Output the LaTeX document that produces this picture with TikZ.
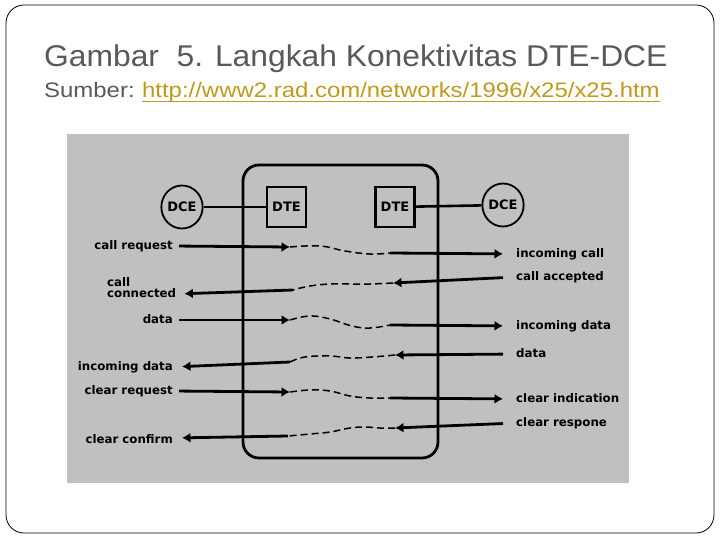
\documentclass[tikz,border=0pt]{standalone}
\usepackage{fontspec}
\usetikzlibrary{arrows.meta,shapes.geometric}
\newfontfamily\titlefont[FakeStretch=1.06]{Liberation Sans}
\newfontfamily\srcfont[FakeStretch=1.14]{Liberation Sans}
\newfontfamily\lblfont{DejaVu Sans}
\definecolor{panelgray}{HTML}{C0C0C0}
\definecolor{titlegray}{HTML}{595959}
\definecolor{urlgold}{HTML}{BF9A1E}
\begin{document}
\begin{tikzpicture}[x=1pt,y=-1pt,
		msg/.style={inner sep=0pt,font=\lblfont\bfseries\fontsize{11.8}{11.5}\selectfont},
		sig/.style={line width=2.8pt,-{Latex[length=8.5pt,width=10pt]}},
		wire/.style={line width=2.6pt},
		wave/.style={line width=1.5pt,dash pattern=on 7pt off 4pt},
		dcenode/.style={ellipse,draw,line width=1.8pt,minimum width=40pt,minimum height=43pt,inner sep=0pt,font=\lblfont\bfseries\fontsize{13}{13}\selectfont},
		dtenode/.style={rectangle,draw,line width=2.4pt,minimum width=39pt,minimum height=40pt,inner sep=0pt,font=\lblfont\bfseries\fontsize{13}{13}\selectfont}
	]
		\useasboundingbox (0,0) rectangle (720,540);
		\fill[white] (0,0) rectangle (720,540);
		\draw[line width=0.8pt,rounded corners=18pt] (6,5) rectangle (714,533);
		
		\node[anchor=base west,inner sep=0pt,text=titlegray,font=\titlefont\fontsize{30}{30}\selectfont] (title) at (44,66.5) {Gambar\ \ 5. Langkah Konektivitas DTE-DCE};
		\node[anchor=base west,inner sep=0pt,text=titlegray,font=\srcfont\fontsize{21}{21}\selectfont] (srclabel) at (44,98) {Sumber:};
		\node[anchor=base west,inner sep=0pt,text=urlgold,font=\srcfont\fontsize{21}{21}\selectfont] (srcurl) at ([xshift=7pt]srclabel.base east) {http://www2.rad.com/networks/1996/x25/x25.htm};
		\draw[urlgold,line width=1.8pt] ([yshift=-3.5pt]srcurl.base west) -- ([yshift=-3.5pt]srcurl.base east);
		
		\fill[panelgray] (67,134) rectangle (629,483);
		\node[draw,rounded corners=16pt,line width=2.8pt,minimum width=195pt,minimum height=293pt] (dtezone) at (340.5,311.5) {};
		
		\node[dcenode] (dceA) at (182,207) {DCE};
		\node[dtenode] (dteA) at (286.5,207) {DTE};
		\node[dtenode] (dteB) at (395,207) {DTE};
		\node[dcenode] (dceB) at (503,205) {DCE};
		\draw[wire] (dceA) -- (dteA);
		\draw[wire] (dteB) -- (dceB);
		
		\node[msg,anchor=base east] (callreq) at (173,249) {call request};
		\node[msg,anchor=base west] (incall) at (516,257) {incoming call};
		\coordinate (reqtip) at (290,247);
		\coordinate (reqout) at (390,253);
		\draw[sig,shorten <=6pt] ([yshift=3pt]callreq.base east) -- (reqtip);
		\draw[wave] 
		plot[smooth, tension=0.7] coordinates {
			(reqtip)
			(320,246)
			(345,251)
			(370,254)
			(reqout)
		};
		\draw[sig,shorten >=13pt] (reqout) -- ([yshift=3pt]incall.base west);
		
		\node[msg,anchor=south west,align=left] (callcon) at (107,298) {call\\connected};
		\node[msg,anchor=base west] (callacc) at (516,280) {call accepted};
		\coordinate (conin) at (293,290);
		\coordinate (acctip) at (393,283);
		\draw[sig,shorten <=13pt] ([yshift=3pt]callacc.base west) -- (acctip);
		\draw[wave] 
		plot[smooth, tension=0.7] coordinates {
			(acctip)
			(370,284)
			(350,284)
			(330,284)
			(310,286)
			(conin)
		};
		\draw[sig,shorten >=8pt] (conin) -- ([yshift=4pt]callcon.south east);
		
		\node[msg,anchor=base east] (datasend) at (173,323) {data};
		\node[msg,anchor=base west] (datain) at (516,329) {incoming data};
		\coordinate (datatip) at (290,320);
		\coordinate (dataout) at (390,325);
		\draw[sig,shorten <=6pt] ([yshift=3pt]datasend.base east) -- (datatip);
		\draw[wave] 
		plot[smooth, tension=0.7] coordinates {
			(datatip)
			(310,316)
			(330,319)
			(352,326)
			(370,328)
			(dataout)
		};
		\draw[sig,shorten >=13pt] (dataout) -- ([yshift=3pt]datain.base west);
		
		\node[msg,anchor=base east] (datarecv) at (173,370) {incoming data};
		\node[msg,anchor=base west] (dataret) at (516,357) {data};
		\coordinate (retin) at (290,362);
		\coordinate (rettip) at (395,355);
		\draw[sig,shorten <=13pt] ([yshift=3pt]dataret.base west) -- (rettip);
		\draw[wave] 
		plot[smooth, tension=0.7] coordinates {
			(rettip)
			(372,357)
			(350,358)
			(330,356)
			(305,357)
			(retin)
		};
		\draw[sig,shorten >=9pt] (retin) -- ([yshift=3pt]datarecv.base east);
		
		\node[msg,anchor=base east] (clrreq) at (173,394) {clear request};
		\node[msg,anchor=base west] (clrind) at (516,402) {clear indication};
		\coordinate (clrtip) at (290,392);
		\coordinate (clrout) at (390,398);
		\draw[sig,shorten <=6pt] ([yshift=3pt]clrreq.base east) -- (clrtip);
		\draw[wave] 
		plot[smooth, tension=0.7] coordinates {
			(clrtip)
			(310,390)
			(330,391)
			(350,396)
			(370,398)
			(clrout)
		};
		\draw[sig,shorten >=13pt] (clrout) -- ([yshift=3pt]clrind.base west);
		
		\node[msg,anchor=base east] (clrcfm) at (173,443) {clear confirm};
		\node[msg,anchor=base west] (clrresp) at (516,426) {clear respone};
		\coordinate (cfmin) at (288,436);
		\coordinate (cfmtip) at (395,428);
		\draw[sig,shorten <=13pt] ([yshift=3pt]clrresp.base west) -- (cfmtip);
		\draw[wave] 
		plot[smooth, tension=0.7] coordinates {
			(cfmtip)
			(380,428)
			(365,427)
			(350,428)
			(330,432)
			(310,434)
			(cfmin)
		};
		\draw[sig,shorten >=9pt] (cfmin) -- ([yshift=5pt]clrcfm.base east);
	\end{tikzpicture}
\end{document}
